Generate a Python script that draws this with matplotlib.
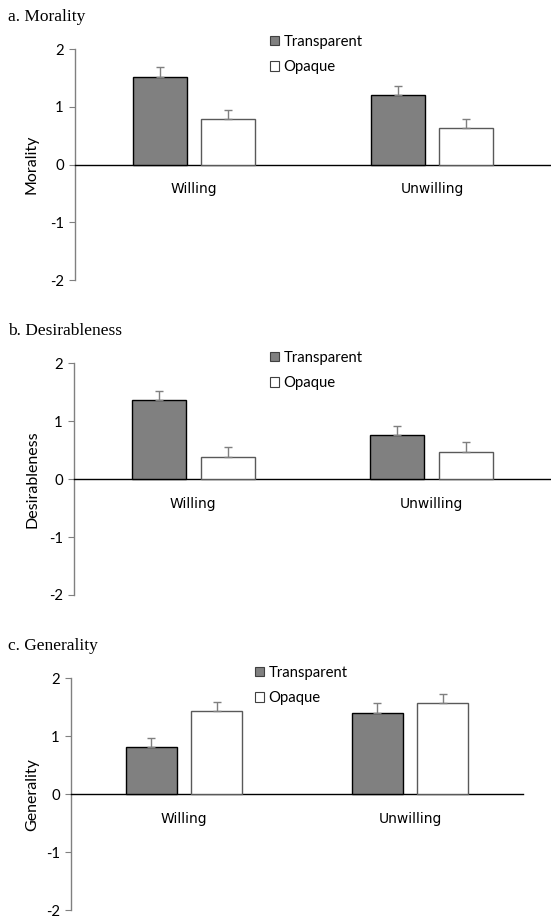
import matplotlib
matplotlib.use('Agg')
import matplotlib.pyplot as plt
import matplotlib.transforms as mtransforms
from matplotlib.patches import Patch
import numpy as np

groups = ['Willing', 'Unwilling']
conditions = ['Transparent', 'Opaque']
y_ticks = [-2, -1, 0, 1, 2]

panel_titles = ['a. Morality', 'b. Desirableness', 'c. Generality']
y_labels = ['Morality', 'Desirableness', 'Generality']

# means and (upper) standard errors
morality_transparent = [1.51, 1.21]
morality_transparent_err = [0.17, 0.15]
morality_opaque = [0.78, 0.63]
morality_opaque_err = [0.16, 0.15]

desirable_transparent = [1.37, 0.76]
desirable_transparent_err = [0.16, 0.15]
desirable_opaque = [0.39, 0.47]
desirable_opaque_err = [0.16, 0.17]

general_transparent = [0.82, 1.40]
general_transparent_err = [0.15, 0.17]
general_opaque = [1.44, 1.57]
general_opaque_err = [0.15, 0.16]

panels = [
    (morality_transparent, morality_transparent_err, morality_opaque, morality_opaque_err),
    (desirable_transparent, desirable_transparent_err, desirable_opaque, desirable_opaque_err),
    (general_transparent, general_transparent_err, general_opaque, general_opaque_err),
]

W, H = 551, 917
fig = plt.figure(figsize=(W / 100, H / 100), dpi=100)

# axes boxes in pixels: left, right, top, bottom
boxes = [(75, 551, 49, 280), (74, 551, 363.3, 595), (71, 523, 678.3, 910)]
title_pos = [(8, 17), (8, 331), (8, 646)]
legend_pos = [(270, 35), (270, 351), (255, 666)]

sans = ['Lato', 'DejaVu Sans']
serif = ['Liberation Serif', 'DejaVu Serif']
fs = 10.7

x = np.arange(len(groups))
bw = 0.227
off = 0.144

for i, (tv, te, ov, oe) in enumerate(panels):
    l, r, t, b = boxes[i]
    ax = fig.add_axes([l / W, 1 - b / H, (r - l) / W, (b - t) / H])

    ax.bar(x - off, tv, bw, color='#808080', edgecolor='black', linewidth=1, zorder=3)
    ax.bar(x + off, ov, bw, color='white', edgecolor='#595959', linewidth=1, zorder=3)
    ax.errorbar(x - off, tv, yerr=[np.zeros(2), te], fmt='none', ecolor='#7f7f7f',
                elinewidth=1, capsize=3, capthick=1, zorder=4)
    ax.errorbar(x + off, ov, yerr=[np.zeros(2), oe], fmt='none', ecolor='#7f7f7f',
                elinewidth=1, capsize=3, capthick=1, zorder=4)

    ax.set_xlim(-0.5, 1.5)
    ax.set_ylim(-2, 2)
    ax.set_yticks(y_ticks)
    ax.set_yticklabels([str(v) for v in y_ticks], family=sans, fontsize=fs)
    ax.set_xticks(x)
    ax.set_xticklabels(groups, family=sans, fontsize=fs)
    ax.tick_params(axis='x', length=0, pad=12.5)
    ax.tick_params(axis='y', length=4, width=0.8, color='#808080', pad=4)

    ax.spines['top'].set_visible(False)
    ax.spines['right'].set_visible(False)
    ax.spines['bottom'].set_position(('data', 0))
    ax.spines['bottom'].set_color('black')
    ax.spines['bottom'].set_linewidth(1)
    ax.spines['left'].set_color('#808080')
    ax.spines['left'].set_linewidth(1)
    ax.patch.set_visible(False)

    ax.set_ylabel(y_labels[i], family=sans, fontsize=11.5)
    trans = mtransforms.blended_transform_factory(fig.transFigure, ax.transAxes)
    ax.yaxis.set_label_coords(39 / W, 0.5, transform=trans)

    tx, ty = title_pos[i]
    fig.text(tx / W, 1 - ty / H, panel_titles[i], family=serif, fontsize=12.5,
             ha='left', va='center')

    handles = [Patch(facecolor='#808080', edgecolor='#404040', linewidth=0.8),
               Patch(facecolor='white', edgecolor='#404040', linewidth=0.8)]
    lx, ly = legend_pos[i]
    ax.legend(handles, conditions, loc='upper left',
              bbox_to_anchor=(lx / W, 1 - ly / H), bbox_transform=fig.transFigure,
              frameon=False, borderpad=0, borderaxespad=0, handlelength=0.6,
              handleheight=0.6, handletextpad=0.3, labelspacing=0.75,
              prop={'family': sans, 'size': fs})

fig.savefig('out.png', dpi=100)
